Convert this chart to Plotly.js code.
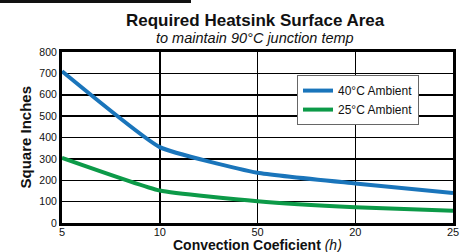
<!DOCTYPE html>
<html><head><meta charset="utf-8">
<script src="https://cdn.plot.ly/plotly-3.0.1.min.js"></script>
<style>html,body{margin:0;padding:0;background:#fff;}#bar{position:absolute;left:0;top:0;width:191px;height:3px;background:#111;z-index:10;}</style>
</head><body>
<div id="bar"></div>
<div id="chart" style="width:463px;height:252px;"></div>
<script>
const categories = ['5', '10', '50', '20', '25'];
const ambient40 = [710, 355, 235, 185, 140];
const ambient25 = [305, 152, 102, 74, 57];
const seriesNames = ['40°C Ambient', '25°C Ambient'];
const yTicks = [0, 100, 200, 300, 400, 500, 600, 700, 800];
const titleText = 'Required Heatsink Surface Area';
const subtitleText = 'to maintain 90°C junction temp';
const xTitleText = 'Convection Coeficient';
const yTitleText = 'Square Inches';

const font = 'Liberation Sans, Arial, sans-serif';
const data = [
  {x: categories, y: ambient40, name: seriesNames[0], type: 'scatter', mode: 'lines',
   line: {color: '#1a75bb', width: 4, shape: 'spline', smoothing: 0.4}},
  {x: categories, y: ambient25, name: seriesNames[1], type: 'scatter', mode: 'lines',
   line: {color: '#0c9a48', width: 4, shape: 'spline', smoothing: 0.4}}
];
const layout = {
  width: 463, height: 252,
  margin: {l: 62, r: 10, t: 52, b: 29},
  paper_bgcolor: '#fff', plot_bgcolor: '#fff',
  font: {family: font, color: '#111', size: 10},
  xaxis: {type: 'category', range: [0, 4], showgrid: true, gridcolor: '#000', gridwidth: 1.5,
    showline: true, linecolor: '#000', linewidth: 3, mirror: true, ticks: '', zeroline: false,
    tickfont: {size: 11, family: font}, automargin: false, ticklabelstandoff: -3},
  yaxis: {range: [0, 800], tickvals: yTicks, showgrid: true, gridcolor: '#000', gridwidth: 1.5,
    showline: true, linecolor: '#000', linewidth: 3, mirror: true, ticks: '', zeroline: false,
    tickfont: {size: 10.5, family: font}, automargin: false},
  annotations: [
    {text: '<b>' + titleText + '</b>', xref: 'paper', yref: 'paper', x: 0.494, y: 1.185,
     xanchor: 'center', yanchor: 'middle', showarrow: false, font: {size: 17, family: font, color: '#111'}},
    {text: '<i>' + subtitleText + '</i>', xref: 'paper', yref: 'paper', x: 0.494, y: 1.08,
     xanchor: 'center', yanchor: 'middle', showarrow: false, font: {size: 14.5, family: font, color: '#111'}},
    {text: '<b>' + xTitleText + '</b> <i>(h)</i>', xref: 'paper', yref: 'paper', x: 0.5, y: -0.13,
     xanchor: 'center', yanchor: 'middle', showarrow: false, font: {size: 14, family: font, color: '#111'}},
    {text: '<b>' + yTitleText + '</b>', xref: 'paper', yref: 'paper', x: -0.0946, y: 0.5,
     xanchor: 'center', yanchor: 'middle', textangle: -90, showarrow: false, font: {size: 15, family: font, color: '#111'}}
  ],
  legend: {x: 0.601, y: 0.865, xanchor: 'left', yanchor: 'top', bgcolor: '#fff',
    bordercolor: '#666', borderwidth: 1, font: {size: 12, family: font}, tracegroupgap: 0},
  showlegend: true
};
Plotly.newPlot('chart', data, layout, {staticPlot: true, displayModeBar: false});
</script>
</body></html>
